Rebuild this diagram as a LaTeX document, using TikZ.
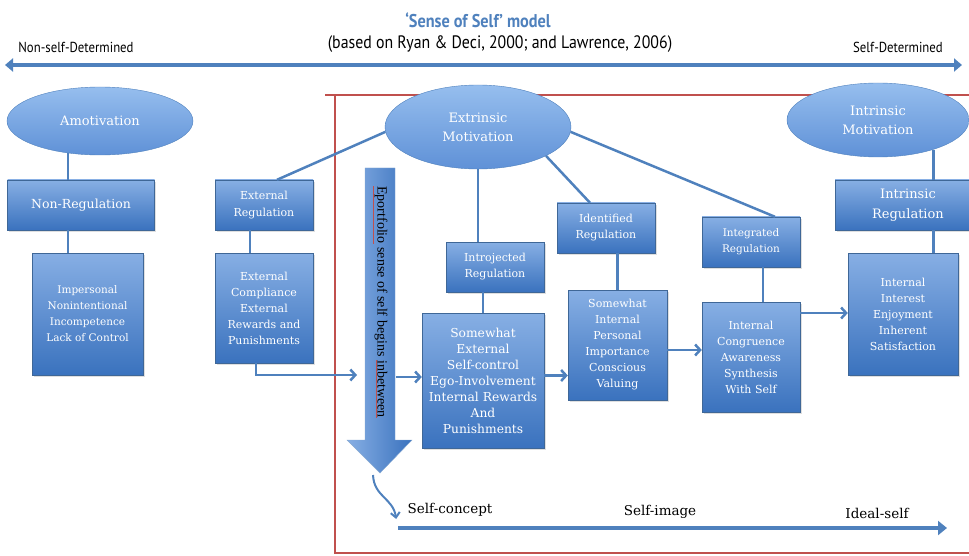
\documentclass[tikz,border=0pt]{standalone}
\usepackage{fontspec}
\setmainfont{DejaVu Serif}
\newfontfamily\condfont[FakeStretch=0.88]{PT Sans}
\newfontfamily\vertfont{Liberation Serif}
\usetikzlibrary{shapes.geometric,arrows.meta,calc,shadows}

\definecolor{linkblue}{RGB}{79,129,189}
\definecolor{boxtop}{RGB}{135,175,228}
\definecolor{boxbot}{RGB}{58,114,190}
\definecolor{ovaltop}{RGB}{150,190,238}
\definecolor{ovalbot}{RGB}{95,145,215}
\definecolor{framered}{RGB}{192,80,77}

\newcommand{\fs}[2]{\fontsize{#1}{#2}\selectfont}
\newcommand{\squig}[1]{\textcolor{framered}{\underline{\textcolor{black}{#1}}}}

\begin{document}
\begin{tikzpicture}[x=1pt,y=-1pt,
    box/.style={rectangle, draw=linkblue!80!black, top color=boxtop, bottom color=boxbot, text=white, align=center, inner sep=1pt,
        drop shadow={opacity=0.25, shadow xshift=1.5pt, shadow yshift=-2pt}},
    oval/.style={ellipse, draw=linkblue, top color=ovaltop, bottom color=ovalbot, text=white, align=center, inner sep=0pt},
    link/.style={draw=linkblue, line width=2.5pt},
    flow/.style={link, -{Straight Barb[length=5pt,width=11pt]}},
    band/.style={draw=linkblue, line width=4.5pt},
    frame/.style={draw=framered, line width=2pt}
]
\useasboundingbox (0,0) rectangle (969,556);
\clip (0,0) rectangle (969,556);

% heading
\node[font=\condfont\bfseries\fs{18.5}{20}, text=linkblue] (title) at (478,20) {‘Sense of Self’ model};
\node[font=\condfont\fs{18}{20}] (subtitle) at (500,44) {(based on Ryan \& Deci, 2000; and Lawrence, 2006)};
\node[font=\condfont\fs{14.5}{16}] (nonself) at (76,47) {Non-self-Determined};
\node[font=\condfont\fs{14.5}{16}] (selfdet) at (898,47) {Self-Determined};
\coordinate (leftend) at (5,65);
\coordinate (rightend) at (962,65);
\draw[band, {Triangle[length=8pt,width=13pt]}-{Triangle[length=8pt,width=13pt]}] (leftend) -- (rightend);

% red frame
\draw[frame] (325,95) -- (975,95);
\draw[frame] (335,95) -- (335,553) -- (975,553);

% amotivation
\node[oval, minimum width=186pt, minimum height=68pt, font=\fs{13}{16}] (amot) at (100,121) {Amotivation};
\node[box, minimum width=147pt, minimum height=50pt, font=\fs{12.5}{15}] (nonreg) at (81,205) {Non-Regulation};
\node[box, minimum width=111pt, minimum height=122pt, font=\fs{10.5}{16}] (imperson) at (87.5,314) {Impersonal\\Nonintentional\\Incompetence\\Lack of Control};

% extrinsic motivation
\node[oval, minimum width=186pt, minimum height=84pt, font=\fs{13}{19}] (extrinsic) at (478,127) {Extrinsic\\Motivation};
\node[box, minimum width=98pt, minimum height=50pt, font=\fs{11}{17}] (extreg) at (264,205) {External\\Regulation};
\node[box, minimum width=98pt, minimum height=110pt, font=\fs{11}{16}] (extcomp) at (264,308) {External\\Compliance\\External\\Rewards and\\Punishments};
\node[box, minimum width=98pt, minimum height=50pt, font=\fs{11}{16}] (introj) at (495,267) {Introjected\\Regulation};
\node[box, minimum width=122pt, minimum height=135pt, font=\fs{12.3}{16}] (someext) at (483,380.5) {Somewhat\\External\\Self-control\\Ego-Involvement\\Internal Rewards\\And\\Punishments};
\node[box, minimum width=98pt, minimum height=50pt, font=\fs{11}{16}] (identif) at (606,228) {Identified\\Regulation};
\node[box, minimum width=99pt, minimum height=110pt, font=\fs{11}{16}] (someint) at (617.5,345) {Somewhat\\Internal\\Personal\\Importance\\Conscious\\Valuing};
\node[box, minimum width=98pt, minimum height=50pt, font=\fs{10.5}{16}] (integ) at (751,242) {Integrated\\Regulation};
\node[box, minimum width=98pt, minimum height=110pt, font=\fs{11}{16}] (intcong) at (751,357) {Internal\\Congruence\\Awareness\\Synthesis\\With Self};

% intrinsic motivation
\node[oval, minimum width=182pt, minimum height=74pt, font=\fs{13}{19}] (intrmot) at (878,120) {Intrinsic\\Motivation};
\node[box, minimum width=140pt, minimum height=50pt, font=\fs{13}{20}] (intreg) at (905,205) {\hspace*{6pt}Intrinsic\\\hspace*{6pt}Regulation};
\node[box, minimum width=110pt, minimum height=122pt, font=\fs{11}{16}] (intint) at (903,314) {Internal\\Interest\\Enjoyment\\Inherent\\Satisfaction};

% links
\draw[link] (amot.225) -- (amot.225 |- nonreg.north);
\draw[link] (nonreg.south -| amot.225) -- (imperson.north -| amot.225);
\draw[link] ([xshift=13pt]extreg.north) -- (extrinsic.183);
\draw[link] ([xshift=-14pt]extreg.south) -- ([xshift=-14pt]extcomp.north);
\draw[link] (extrinsic.south) -- (extrinsic.south |- introj.north);
\draw[link] (introj.south -| someext.north) -- (someext.north);
\draw[link] (extrinsic.337) -- ([xshift=-16pt]identif.north);
\draw[link] (identif.south -| someint.north) -- (someint.north);
\draw[link] (extrinsic.357) -- ([xshift=24pt]integ.north);
\draw[link] ([xshift=12pt]integ.south) -- ([xshift=12pt]intcong.north);
\draw[link] (intrmot.332) -- (intrmot.332 |- intreg.north);
\draw[link] (intreg.south -| intrmot.332) -- (intint.north -| intrmot.332);

% eportfolio arrow
\coordinate (eptip) at (380,473);
\shade[left color=boxtop, right color=boxbot, draw=linkblue!70] (365,168) -- (395,168) -- (395,440) -- (412,440) -- (eptip) -- (347,440) -- (365,440) -- cycle;
\node[font=\vertfont\fs{14}{16}, rotate=-90] (eptext) at (380,302) {\squig{Eportfolio} sense of self begins \squig{inbetween}};
\coordinate (epin) at (357,375);
\coordinate (epout) at (396,377);

% flow arrows
\draw[flow] ([xshift=-8pt]extcomp.south) |- (epin);
\draw[flow] (epout) -- (epout -| someext.west);
\draw[flow] ([yshift=5pt]someext.east) -- ([yshift=5pt]someext.east -| someint.west);
\draw[flow] ([yshift=-5pt]someint.east) -- ([yshift=-5pt]someint.east -| intcong.west);
\draw[flow] ([yshift=44pt]intcong.east) -- ([yshift=44pt]intcong.east -| intint.west);

% self scale
\node[font=\fs{13.5}{16}] (concept) at (450,510) {Self-concept};
\node[font=\fs{13.5}{16}] (selfimg) at (660,512) {Self-image};
\node[font=\fs{13.5}{16}] (ideal) at (877,513) {Ideal-self};
\coordinate (selfstart) at (398,528);
\coordinate (selfend) at (947,528);
\draw[band, -{Triangle[length=9pt,width=14pt]}] (selfstart) -- (selfend);
\draw[link, line width=2pt, -{Straight Barb[length=5pt,width=9pt]}] ([xshift=-7pt,yshift=-2pt]eptip) .. controls ([xshift=-6pt,yshift=-24pt]eptip) and ([xshift=-11pt,yshift=12pt]concept.west) .. ([xshift=-8pt,yshift=-9pt]concept.west);
\end{tikzpicture}
\end{document}
